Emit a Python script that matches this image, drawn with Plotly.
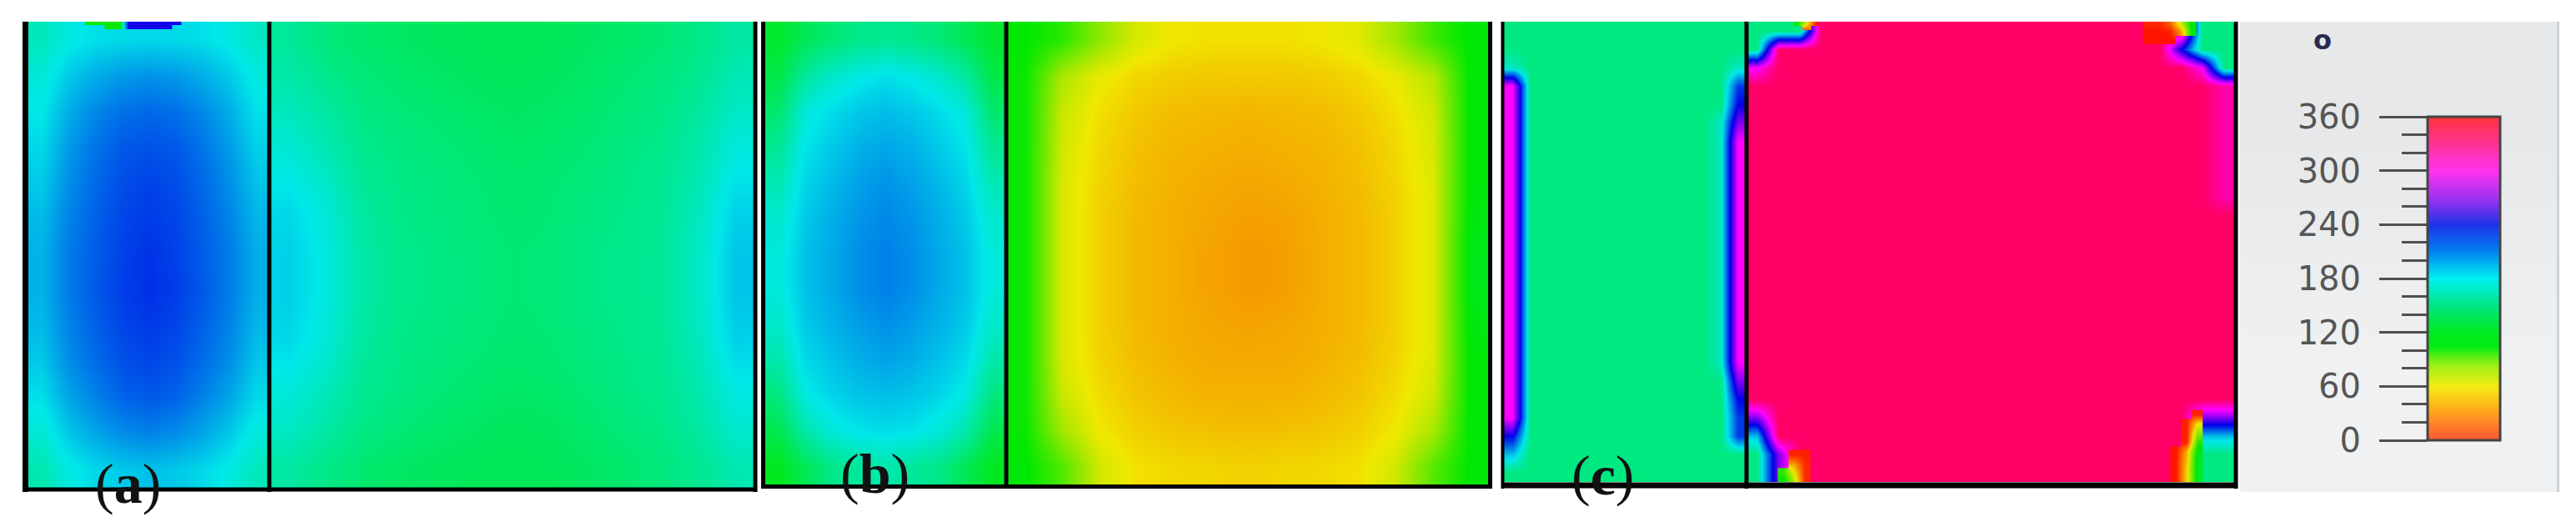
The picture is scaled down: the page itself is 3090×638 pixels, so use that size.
#!/usr/bin/env python3
"""Three phase maps (a, b, c) with a 0-360 hue scale at the right."""

import plotly.graph_objects as go

W, H = 3090, 638

# values are degrees on a coarse mesh
A_LEFT = [
    [168, 178, 182, 184, 184, 184, 182, 178, 170],
    [175, 188, 195, 200, 202, 200, 195, 188, 177],
    [180, 195, 205, 211, 213, 211, 205, 195, 182],
    [184, 200, 210, 217, 219, 217, 210, 200, 186],
    [188, 203, 213, 220, 223, 220, 213, 203, 190],
    [192, 206, 215, 222, 225, 222, 215, 206, 193],
    [194, 208, 216, 223, 227, 223, 216, 208, 195],
    [194, 208, 217, 224, 228, 224, 217, 208, 195],
    [192, 206, 215, 222, 225, 222, 215, 206, 193],
    [188, 203, 212, 219, 222, 219, 212, 203, 189],
    [182, 197, 206, 214, 217, 214, 206, 197, 184],
    [174, 188, 197, 203, 206, 203, 197, 188, 176],
    [165, 178, 184, 188, 190, 188, 184, 178, 168],
]
A_RIGHT = [
    [160, 152, 148, 146, 144, 143, 142, 143, 145, 147, 150, 155, 162],
    [165, 158, 152, 149, 147, 145, 144, 145, 147, 150, 153, 158, 168],
    [172, 164, 155, 152, 150, 148, 146, 147, 149, 152, 155, 162, 174],
    [178, 170, 158, 154, 152, 150, 148, 149, 151, 154, 157, 165, 180],
    [184, 176, 161, 155, 153, 151, 149, 150, 153, 155, 158, 169, 186],
    [186, 178, 163, 156, 154, 152, 150, 151, 154, 156, 159, 171, 189],
    [186, 178, 163, 156, 154, 152, 150, 151, 154, 156, 159, 171, 189],
    [184, 176, 161, 155, 153, 151, 149, 150, 153, 155, 158, 169, 186],
    [178, 170, 158, 154, 151, 149, 147, 148, 151, 154, 157, 165, 180],
    [172, 164, 155, 151, 148, 146, 144, 145, 148, 152, 155, 162, 174],
    [162, 155, 149, 146, 144, 143, 142, 143, 145, 148, 152, 157, 166],
]
B_LEFT = [
    [132, 142, 150, 155, 158, 155, 150, 142, 132],
    [138, 160, 172, 178, 182, 178, 172, 160, 138],
    [148, 176, 183, 188, 191, 188, 183, 176, 148],
    [158, 181, 188, 194, 197, 194, 188, 181, 158],
    [166, 185, 192, 198, 202, 198, 192, 185, 166],
    [173, 188, 195, 201, 205, 201, 195, 188, 173],
    [176, 190, 196, 203, 207, 203, 196, 190, 176],
    [176, 190, 196, 203, 207, 203, 196, 190, 176],
    [172, 188, 194, 199, 203, 199, 194, 188, 172],
    [164, 184, 190, 195, 198, 195, 190, 184, 164],
    [152, 178, 185, 189, 191, 189, 185, 178, 152],
    [140, 164, 176, 181, 183, 181, 176, 164, 140],
    [128, 142, 155, 160, 165, 160, 155, 142, 128],
]
B_RIGHT = [
    [120, 110, 85, 66, 60, 58, 58, 58, 60, 64, 80, 105, 122],
    [118, 78, 62, 56, 53, 52, 52, 52, 53, 56, 62, 75, 122],
    [118, 70, 58, 52, 49, 48, 47, 48, 49, 52, 58, 68, 122],
    [118, 68, 56, 50, 47, 46, 45, 46, 47, 50, 56, 66, 122],
    [118, 66, 55, 49, 46, 44, 43, 44, 46, 49, 55, 65, 122],
    [118, 66, 54, 48, 45, 43, 41, 42, 45, 48, 54, 64, 124],
    [118, 66, 54, 48, 45, 42, 40, 41, 45, 48, 54, 64, 126],
    [118, 66, 54, 48, 45, 42, 40, 41, 45, 48, 54, 64, 126],
    [118, 66, 54, 48, 45, 43, 42, 43, 45, 48, 54, 64, 124],
    [118, 66, 55, 49, 46, 44, 44, 44, 46, 49, 55, 65, 122],
    [118, 70, 57, 51, 48, 46, 46, 46, 48, 51, 57, 68, 122],
    [118, 80, 60, 54, 51, 50, 49, 50, 51, 54, 60, 78, 122],
    [122, 100, 68, 58, 56, 55, 54, 55, 56, 58, 68, 98, 122],
]

# panel c is almost two flat levels, so its mesh is written as letters
C_LEVELS = {"g": 153, "t": 170, "c": 190, "b": 225, "u": 240, "v": 270, "m": 300, "h": 320, "p": 336}
C_LEFT = [
    "gggggggggggggg",
    "gggggggggggggg",
    "tggggggggggggt",
    "mggggggggggggb",
    "mggggggggggggu",
    "mgggggggggggtv",
    "mgggggggggggtm",
    "mgggggggggggtm",
    "mgggggggggggtm",
    "mgggggggggggtm",
    "mgggggggggggtm",
    "mgggggggggggtm",
    "mgggggggggggtm",
    "mgggggggggggtm",
    "mgggggggggggtm",
    "mgggggggggggtm",
    "mgggggggggggtm",
    "mgggggggggggtm",
    "mgggggggggggtm",
    "mggggggggggggv",
    "mggggggggggggu",
    "mggggggggggggb",
    "uggggggggggggb",
    "cggggggggggggg",
    "gggggggggggggg",
]
C_RIGHT = [
    "gggppppppppppppppppppgg",
    "gpppppppppppppppppppugg",
    "mppppppppppppppppppppmg",
    "pppppppppppppppppppppph",
    "pppppppppppppppppppppph",
    "pppppppppppppppppppppph",
    "pppppppppppppppppppppph",
    "pppppppppppppppppppppph",
    "pppppppppppppppppppppph",
    "pppppppppppppppppppppph",
    "ppppppppppppppppppppppp",
    "ppppppppppppppppppppppp",
    "ppppppppppppppppppppppp",
    "ppppppppppppppppppppppp",
    "ppppppppppppppppppppppp",
    "ppppppppppppppppppppppp",
    "ppppppppppppppppppppppp",
    "ppppppppppppppppppppppp",
    "ppppppppppppppppppppppp",
    "ppppppppppppppppppppppp",
    "ppppppppppppppppppppppp",
    "vppppppppppppppppppppvv",
    "cppppppppppppppppppppcc",
    "gvpppppppppppppppppppgg",
    "gvpppppppppppppppppppgg",
]

# spots where the phase wraps through 0, drawn over the mesh; (col, row, dcol, drow, values)
N = None
PATCH_A_TOP = (2.9, 0.1, 0.45, 0.2, [
    [118, 118, 118, 118, 245, 245, 245, 245, 245, 245],
    [N, N, 118, 118, 245, 245, 245, 245, 245, N],
])
PATCH_C_TL = (13.7, 0.1, 0.4, 0.25, [[115, 60, 8], [N, 30, N]])
PATCH_C_TR = (30.0, 0.1, 0.5, 0.45, [
    [10, 10, 25, 70, 125],
    [5, 5, 8, 40, 120],
    [5, 5, 5, N, N],
])
PATCH_C_BL = (13.0, 23.5, 0.5, 0.5, [
    [N, 8, 8],
    [N, 40, 10],
    [110, 60, 10],
    [125, 75, 10],
])
PATCH_C_BR = (31.27, 21.33, 0.5, 0.5, [
    [N, N, 8],
    [N, 8, 60],
    [N, 8, 85],
    [N, 8, 110],
    [5, 45, 125],
    [5, 50, 130],
    [5, 55, 130],
    [5, 55, 130],
])

BAR_LEVELS = list(range(0, 361, 20))
MAJOR_TICKS = [0, 60, 120, 180, 240, 300, 360]
MINOR_TICKS = [20, 40, 80, 100, 140, 160, 200, 220, 260, 280, 320, 340]
PANEL_SHADE = [0, 1]

# mesh size shared by the three panels, and the line between the two regions
MESH_W, MESH_H = 34, 25
DIVIDER = 11.3

FIELD_SCALE = [
    [0, "#ff0000"], [60 / 360, "#f0e800"], [120 / 360, "#00e800"], [180 / 360, "#00e8e8"],
    [240 / 360, "#0000e8"], [300 / 360, "#ff00ff"], [1, "#ff0000"],
]
BAR_SCALE = [
    [0, "#ff5533"], [30 / 360, "#ffa01e"], [60 / 360, "#f5eb14"], [85 / 360, "#96f014"],
    [105 / 360, "#00eb14"], [120 / 360, "#00eb1e"], [150 / 360, "#00e682"], [180 / 360, "#00f0f0"],
    [210 / 360, "#0082f0"], [240 / 360, "#1e32e6"], [270 / 360, "#a032f0"], [300 / 360, "#ff32f0"],
    [330 / 360, "#ff3296"], [1, "#ff323c"],
]


def letters(rows):
    return [[C_LEVELS[ch] for ch in row] for row in rows]


def px_x(x):
    return x / W


def px_y(y):
    return 1 - y / H


fig = go.Figure()


def add_field(z, x_from, x_to, ax):
    dx = (x_to - x_from) / len(z[0])
    dy = MESH_H / len(z)
    fig.add_trace(go.Heatmap(
        z=z, x0=x_from + dx / 2, dx=dx, y0=dy / 2, dy=dy,
        zsmooth="best", zmin=0, zmax=360, colorscale=FIELD_SCALE, showscale=False,
        xaxis=f"x{ax}", yaxis=f"y{ax}", hoverinfo="skip",
    ))


def add_patch(patch, ax):
    col, row, dcol, drow, z = patch
    fig.add_trace(go.Heatmap(
        z=z, x0=col, dx=dcol, y0=row, dy=drow,
        zsmooth="best", zmin=0, zmax=360, colorscale=FIELD_SCALE, showscale=False,
        xaxis=f"x{ax}", yaxis=f"y{ax}", hoverinfo="skip",
    ))


add_field(A_LEFT, 0, DIVIDER, 1)
add_field(A_RIGHT, DIVIDER, MESH_W, 1)
add_patch(PATCH_A_TOP, 1)
add_field(B_LEFT, 0, DIVIDER, 2)
add_field(B_RIGHT, DIVIDER, MESH_W, 2)
add_field(letters(C_LEFT), 0, DIVIDER, 3)
add_field(letters(C_RIGHT), DIVIDER, MESH_W, 3)
for patch in (PATCH_C_TL, PATCH_C_TR, PATCH_C_BL, PATCH_C_BR):
    add_patch(patch, 3)

# grey backing of the scale, then the scale itself
fig.add_trace(go.Heatmap(
    z=[[v] for v in PANEL_SHADE], zsmooth="best", showscale=False, hoverinfo="skip",
    colorscale=[[0, "#e6e8ea"], [1, "#f0f1f3"]], xaxis="x4", yaxis="y4",
))
fig.add_trace(go.Heatmap(
    z=[[v] for v in BAR_LEVELS], y=BAR_LEVELS, zsmooth="best", zmin=0, zmax=360,
    colorscale=BAR_SCALE, showscale=False, hoverinfo="skip", xaxis="x5", yaxis="y5",
))

# inner left, inner right, top, bottom of each field, in pixels
PANELS = [
    (34, 904, 26, 585),
    (918, 1786, 26, 581),
    (1804, 2680, 26, 578),
]
layout = dict(
    width=W, height=H, autosize=False,
    margin=dict(l=0, r=0, t=0, b=0),
    paper_bgcolor="white", plot_bgcolor="white", showlegend=False,
)
for i, (x0, x1, y0, y1) in enumerate(PANELS, start=1):
    layout[f"xaxis{i}"] = dict(
        domain=[px_x(x0), px_x(x1)], range=[0, MESH_W], visible=False, anchor=f"y{i}", automargin=False,
    )
    layout[f"yaxis{i}"] = dict(
        domain=[px_y(y1), px_y(y0)], range=[MESH_H, 0], visible=False, anchor=f"x{i}", automargin=False,
    )
layout["xaxis4"] = dict(domain=[px_x(2687), px_x(3068)], visible=False, anchor="y4", automargin=False)
layout["yaxis4"] = dict(
    domain=[px_y(590), px_y(26)], visible=False, anchor="x4", autorange="reversed", automargin=False,
)
layout["xaxis5"] = dict(domain=[px_x(2912), px_x(2999)], visible=False, anchor="y5", automargin=False)
layout["yaxis5"] = dict(
    domain=[px_y(528), px_y(140)], range=[0, 360], anchor="x5", automargin=False,
    tickvals=MAJOR_TICKS, ticks="outside", ticklen=57, tickwidth=3, tickcolor="#505050",
    minor=dict(tickvals=MINOR_TICKS, ticks="outside", ticklen=30, tickwidth=3, tickcolor="#505050"),
    ticklabelstandoff=14, showgrid=False, zeroline=False,
    tickfont=dict(family="DejaVu Sans", size=40, color="#555555"),
)
fig.update_layout(**layout)


def frame_line(x0, y0, x1, y1, width, color="black"):
    fig.add_shape(
        type="line", xref="paper", yref="paper", layer="above",
        x0=px_x(x0), y0=px_y(y0), x1=px_x(x1), y1=px_y(y1),
        line=dict(color=color, width=width),
    )


# left edge, bottom, divider, right edge of each panel
frame_line(30.5, 26, 30.5, 590, 7)
frame_line(27, 587, 908, 587, 5)
frame_line(323, 26, 323, 590, 5)
frame_line(906, 26, 906, 590, 5)

frame_line(915.5, 26, 915.5, 586, 5)
frame_line(913, 583.5, 1789, 583.5, 5)
frame_line(1207, 26, 1207, 586, 5)
frame_line(1787.5, 26, 1787.5, 586, 5)

frame_line(1802.5, 26, 1802.5, 586, 4)
frame_line(1801, 582, 2684, 582, 7)
frame_line(2095, 26, 2095, 586, 5)
frame_line(2682, 26, 2682, 586, 5)

# scale frame and the panel's right rim
fig.add_shape(
    type="rect", xref="paper", yref="paper", layer="above",
    x0=px_x(2912), y0=px_y(528), x1=px_x(2999), y1=px_y(140),
    line=dict(color="#444444", width=3),
)
frame_line(3068.5, 26, 3068.5, 590, 3, color="#ccd1db")

LABELS = [("(<b>a</b>)", 153, 580), ("(<b>b</b>)", 1049, 568), ("(<b>c</b>)", 1923, 570)]
for text, x, y in LABELS:
    fig.add_annotation(
        text=text, xref="paper", yref="paper", x=px_x(x), y=px_y(y), showarrow=False,
        yanchor="middle", xanchor="center",
        font=dict(family="Liberation Serif", size=68, color="#111111"),
    )
fig.add_annotation(
    text="<b>o</b>", xref="paper", yref="paper", x=px_x(2786), y=px_y(48), showarrow=False,
    yanchor="middle", xanchor="center",
    font=dict(family="DejaVu Sans", size=32, color="#2a2a50"),
)

fig.write_html(
    "out.html",
    config={"displayModeBar": False},
    post_script="document.body.style.margin='0';",
)
